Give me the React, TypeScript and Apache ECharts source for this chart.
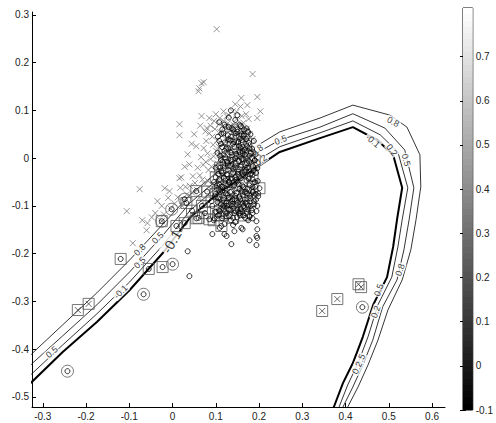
import React, { useEffect, useRef } from 'react';
import * as echarts from 'echarts';

// ---- axes ----
const xTicks = [-0.3, -0.2, -0.1, 0, 0.1, 0.2, 0.3, 0.4, 0.5, 0.6];
const yTicks = [-0.5, -0.4, -0.3, -0.2, -0.1, 0, 0.1, 0.2, 0.3];
const cbTicks = [-0.1, 0, 0.1, 0.2, 0.3, 0.4, 0.5, 0.6, 0.7];
const cbRange = [-0.1, 0.81];

// ---- contour lines ----
const contourLow: number[][] = [
  [-0.342, -0.483], [-0.326, -0.469], [-0.254, -0.406], [-0.175, -0.343], [-0.099, -0.276], [-0.022, -0.198],
  [0.040, -0.125], [0.109, -0.071], [0.179, -0.029], [0.248, 0.013], [0.341, 0.042], [0.417, 0.065],
  [0.473, 0.038], [0.510, 0.007], [0.531, -0.062], [0.519, -0.129], [0.510, -0.186], [0.496, -0.249],
  [0.464, -0.307], [0.440, -0.374], [0.417, -0.429], [0.394, -0.471], [0.373, -0.521], [0.364, -0.538],
];
const contour02: number[][] = [
  [-0.342, -0.466], [-0.326, -0.452], [-0.254, -0.391], [-0.175, -0.326], [-0.099, -0.259], [-0.022, -0.182],
  [0.040, -0.110], [0.109, -0.056], [0.179, -0.014], [0.248, 0.024], [0.341, 0.053], [0.417, 0.078],
  [0.480, 0.049], [0.521, 0.013], [0.544, -0.062], [0.531, -0.129], [0.521, -0.186], [0.507, -0.249],
  [0.475, -0.307], [0.452, -0.374], [0.429, -0.429], [0.405, -0.475], [0.385, -0.521], [0.378, -0.538],
];
const contour05: number[][] = [
  [-0.342, -0.446], [-0.326, -0.431], [-0.254, -0.372], [-0.175, -0.307], [-0.099, -0.238], [-0.022, -0.161],
  [0.040, -0.094], [0.109, -0.041], [0.179, 0.003], [0.248, 0.038], [0.341, 0.065], [0.417, 0.093],
  [0.491, 0.063], [0.537, 0.017], [0.558, -0.062], [0.547, -0.129], [0.535, -0.192], [0.519, -0.255],
  [0.486, -0.311], [0.463, -0.381], [0.440, -0.433], [0.417, -0.479], [0.394, -0.521], [0.387, -0.538],
];
const contour08: number[][] = [
  [-0.342, -0.425], [-0.326, -0.410], [-0.254, -0.349], [-0.175, -0.282], [-0.099, -0.213], [-0.022, -0.138],
  [0.040, -0.077], [0.109, -0.025], [0.179, 0.017], [0.248, 0.055], [0.341, 0.084], [0.417, 0.111],
  [0.503, 0.090], [0.542, 0.065], [0.572, 0.007], [0.574, -0.060], [0.563, -0.129], [0.551, -0.192],
  [0.531, -0.255], [0.498, -0.318], [0.475, -0.381], [0.452, -0.433], [0.429, -0.479], [0.405, -0.521], [0.398, -0.538],
];

const contourLabelPos: number[][] = [
  [-0.076, -0.192], [-0.034, -0.167], [-0.076, -0.219], [-0.120, -0.280], [-0.002, -0.175], [-0.279, -0.406],
  [0.195, 0.017], [0.204, -0.004], [0.250, 0.038],
  [0.510, 0.076], [0.463, 0.036], [0.507, 0.017], [0.540, -0.004],
  [0.526, -0.234], [0.477, -0.276], [0.470, -0.322], [0.434, -0.423], [0.427, -0.439],
];
const contourLabelText = [
  '0.8', '0.5', '0.5', '-0.1', '-0.1', '0.5',
  '0.8', '0.2', '0.5',
  '0.8', '-0.1', '0.2', '0.5',
  '0.8', '0.5', '0.2', '0.5', '0.2',
];
const contourLabelRot = [
  45, 45, 45, 45, 60, 40,
  35, 35, 22,
  -28, -40, -55, -75,
  70, 70, 70, 65, 65,
];
const contourLabelSize = [
  9, 9, 9, 9, 14, 9,
  9, 9, 9,
  9, 9, 9, 9,
  9, 9, 9, 9, 9,
];

// ---- scatter data ----
const crossPts: number[][] = [
  [0.102, 0.270], [0.185, 0.176], [0.067, 0.157], [0.072, 0.159], [0.060, 0.140], [0.062, 0.146],
  [0.159, 0.126], [0.173, 0.111], [0.196, 0.128], [0.203, 0.098], [0.196, 0.084], [0.176, 0.082],
  [0.148, 0.082], [0.139, 0.098], [0.125, 0.088], [0.109, 0.084], [0.085, 0.084], [0.067, 0.088],
  [0.016, 0.071], [0.016, 0.048], [0.079, 0.063], [0.055, 0.025], [0.039, -0.013], [0.185, 0.040],
  [0.162, 0.057], [0.139, 0.061], [-0.076, -0.065], [-0.106, -0.111], [-0.058, -0.136], [-0.060, -0.151],
  [-0.092, -0.178], [-0.025, -0.100], [-0.007, -0.069], [0.016, -0.042], [-0.018, -0.063],
  [0.085, 0.052], [0.092, 0.045], [0.098, 0.061], [0.104, 0.038], [0.110, 0.055], [0.115, 0.047],
  [0.121, 0.066], [0.127, 0.041], [0.133, 0.058], [0.138, 0.033], [0.144, 0.049], [0.150, 0.027],
  [0.156, 0.044], [0.162, 0.019], [0.168, 0.036], [0.094, 0.028], [0.101, 0.015], [0.107, 0.024],
  [0.113, 0.008], [0.119, 0.031], [0.125, 0.017], [0.131, 0.002], [0.137, 0.022], [0.143, 0.010],
  [0.149, -0.004], [0.155, 0.013], [0.161, -0.008], [0.167, 0.006], [0.173, -0.012], [0.078, 0.036],
  [0.072, 0.021], [0.081, 0.010], [0.088, -0.002], [0.095, 0.004], [0.103, -0.011], [0.109, -0.003],
  [0.116, -0.018], [0.122, -0.007], [0.128, -0.024], [0.134, -0.013], [0.140, -0.030], [0.146, -0.019],
  [0.152, -0.035], [0.158, -0.026], [0.165, -0.041], [0.171, -0.030], [0.177, -0.047], [0.066, 0.002],
  [0.071, -0.014], [0.077, -0.008], [0.083, -0.025], [0.090, -0.018], [0.097, -0.033], [0.104, -0.027],
  [0.111, -0.042], [0.118, -0.036], [0.124, -0.051], [0.131, -0.045], [0.137, -0.060], [0.144, -0.053],
  [0.150, -0.068], [0.157, -0.061], [0.163, -0.075], [0.058, -0.020], [0.063, -0.036], [0.069, -0.045],
  [0.075, -0.055], [0.082, -0.048], [0.088, -0.064], [0.095, -0.058], [0.102, -0.073], [0.108, -0.066],
  [0.115, -0.081], [0.121, -0.075], [0.128, -0.090], [0.134, -0.084], [0.141, -0.097], [0.047, -0.038],
  [0.052, -0.052], [0.040, -0.058], [0.045, -0.072], [0.057, -0.067], [0.033, -0.076], [0.027, -0.088],
  [0.062, -0.083], [0.070, -0.093], [0.022, -0.100], [0.012, -0.082], [0.005, -0.095], [-0.004, -0.106],
  [0.030, -0.060], [0.018, -0.062], [0.108, 0.072], [0.118, 0.078], [0.128, 0.073], [0.141, 0.070],
  [0.152, 0.064], [0.164, 0.074], [0.172, 0.062], [0.178, 0.050], [0.088, 0.068], [0.096, 0.078],
  [0.076, 0.056], [0.183, 0.028], [0.180, 0.008], [0.186, -0.010], [0.190, -0.030], [0.186, -0.058],
  [0.181, -0.078], [0.174, -0.092], [0.118, 0.098], [0.130, 0.090], [0.148, 0.097], [0.160, 0.088],
  [0.170, 0.092], [0.157, 0.108], [0.145, 0.113], [0.100, 0.092], [0.064, 0.068], [0.050, 0.050],
  [0.044, 0.030], [0.035, 0.008], [0.028, -0.018], [0.020, -0.040], [-0.010, -0.083], [-0.040, -0.115],
  [-0.048, -0.124], [-0.035, -0.090], [-0.070, -0.130], [-0.020, -0.118],
];

const circlePts: number[][] = [
  [0.035, -0.195], [0.039, -0.247], [0.092, -0.159], [0.120, -0.159], [0.143, -0.153], [0.162, -0.149],
  [0.194, -0.163], [0.194, -0.132], [0.178, -0.121], [0.125, -0.163], [0.159, -0.146], [0.178, -0.172],
  [0.196, -0.167], [0.196, -0.149], [0.185, -0.126], [0.194, -0.111], [0.155, -0.115], [0.109, -0.146],
  [0.097, -0.126], [0.136, -0.180], [0.194, -0.182],
  [0.105, 0.045], [0.112, 0.030], [0.118, 0.052], [0.124, 0.020], [0.130, 0.040], [0.136, 0.012],
  [0.142, 0.034], [0.148, 0.005], [0.154, 0.026], [0.160, -0.002], [0.166, 0.018], [0.172, -0.010],
  [0.110, 0.005], [0.116, -0.008], [0.122, 0.002], [0.128, -0.015], [0.134, -0.004], [0.140, -0.022],
  [0.146, -0.011], [0.152, -0.029], [0.158, -0.018], [0.164, -0.036], [0.170, -0.025], [0.176, -0.043],
  [0.182, -0.032], [0.100, -0.020], [0.106, -0.033], [0.113, -0.027], [0.119, -0.041], [0.125, -0.034],
  [0.131, -0.049], [0.137, -0.042], [0.143, -0.056], [0.149, -0.049], [0.155, -0.064], [0.161, -0.057],
  [0.167, -0.071], [0.173, -0.064], [0.179, -0.079], [0.185, -0.070], [0.096, -0.050], [0.102, -0.062],
  [0.109, -0.056], [0.115, -0.070], [0.121, -0.063], [0.127, -0.078], [0.133, -0.071], [0.139, -0.086],
  [0.145, -0.079], [0.151, -0.093], [0.157, -0.086], [0.163, -0.101], [0.169, -0.094], [0.175, -0.108],
  [0.181, -0.100], [0.188, -0.090], [0.192, -0.075], [0.190, -0.050], [0.188, -0.025], [0.184, 0.000],
  [0.178, 0.020], [0.170, 0.040], [0.160, 0.050], [0.150, 0.055], [0.140, 0.060], [0.130, 0.065],
  [0.120, 0.070], [0.098, -0.080], [0.104, -0.092], [0.111, -0.086], [0.117, -0.100], [0.124, -0.094],
  [0.130, -0.108], [0.137, -0.101], [0.143, -0.115], [0.150, -0.108], [0.156, -0.120], [0.162, -0.113],
  [0.168, -0.125], [0.092, -0.100], [0.100, -0.112], [0.108, -0.118], [0.115, -0.126], [0.125, -0.122],
  [0.135, -0.130], [0.145, -0.134], [0.175, -0.130], [0.185, -0.115], [0.196, -0.100], [0.198, -0.080],
  [0.140, -0.140], [0.120, -0.138], [0.130, 0.085], [0.145, 0.080], [0.155, 0.070], [0.165, 0.060],
  [0.175, 0.055], [0.135, 0.100], [0.150, 0.090], [0.115, 0.060], [0.108, 0.075],
];

const coreCirclePts: number[][] = [
  [0.123, 0.066], [0.137, 0.063], [0.158, 0.067], [0.171, 0.062],
  [0.113, 0.051], [0.128, 0.048], [0.146, 0.052], [0.165, 0.047], [0.180, 0.050],
  [0.108, 0.036], [0.121, 0.033], [0.134, 0.037], [0.152, 0.034], [0.160, 0.038], [0.176, 0.032], [0.188, 0.036],
  [0.115, 0.023], [0.129, 0.020], [0.143, 0.024], [0.158, 0.021], [0.172, 0.025], [0.184, 0.019],
  [0.104, 0.011], [0.118, 0.008], [0.133, 0.012], [0.147, 0.009], [0.156, 0.013], [0.167, 0.007], [0.181, 0.011], [0.192, 0.008],
  [0.112, -0.004], [0.126, -0.007], [0.139, -0.003], [0.153, -0.006], [0.164, -0.002], [0.177, -0.007], [0.190, -0.004],
  [0.106, -0.017], [0.120, -0.020], [0.133, -0.016], [0.145, -0.019], [0.159, -0.015], [0.172, -0.020], [0.186, -0.017], [0.196, -0.021],
  [0.114, -0.031], [0.127, -0.034], [0.140, -0.030], [0.151, -0.033], [0.166, -0.029], [0.179, -0.034], [0.193, -0.031],
  [0.108, -0.044], [0.122, -0.047], [0.134, -0.043], [0.147, -0.046], [0.158, -0.042], [0.171, -0.047], [0.185, -0.044], [0.197, -0.048],
  [0.103, -0.057], [0.116, -0.060], [0.129, -0.056], [0.141, -0.059], [0.153, -0.055], [0.164, -0.060], [0.178, -0.057], [0.191, -0.060],
  [0.110, -0.071], [0.123, -0.074], [0.136, -0.070], [0.148, -0.073], [0.160, -0.069], [0.172, -0.074], [0.186, -0.071], [0.198, -0.074],
  [0.105, -0.084], [0.118, -0.087], [0.130, -0.083], [0.143, -0.086], [0.154, -0.082], [0.167, -0.087], [0.180, -0.084], [0.193, -0.087],
  [0.112, -0.097], [0.125, -0.100], [0.138, -0.096], [0.150, -0.099], [0.162, -0.095], [0.175, -0.100], [0.188, -0.097],
  [0.107, -0.109], [0.121, -0.112], [0.134, -0.108], [0.146, -0.111], [0.158, -0.107], [0.171, -0.112], [0.183, -0.109],
  [0.130, -0.121], [0.149, -0.124], [0.163, -0.120], [0.178, -0.123],
];

const squareCirclePts: number[][] = [
  [-0.120, -0.211], [-0.055, -0.232], [-0.023, -0.228], [0.055, -0.069], [0.032, -0.094], [0.009, -0.142],
  [0.028, -0.136], [0.055, -0.126], [0.085, -0.128], [0.113, -0.142], [0.109, -0.111], [0.125, -0.090],
  [0.201, -0.063],
  [0.100, -0.075], [0.115, -0.060], [0.130, -0.050], [0.145, -0.040], [0.160, -0.030], [0.175, -0.020],
  [0.120, -0.100], [0.138, -0.090], [0.155, -0.080], [0.170, -0.070], [0.185, -0.060], [0.105, -0.120],
  [0.125, -0.115], [0.150, -0.105], [0.165, -0.100], [0.180, -0.090], [0.110, -0.020], [0.128, -0.010],
  [0.145, 0.000], [0.162, 0.010], [0.178, 0.005], [0.140, 0.030], [0.155, 0.040], [0.170, 0.030],
  [0.090, -0.090], [0.080, -0.070], [0.068, -0.100], [0.095, -0.130], [0.140, -0.125], [0.165, -0.120],
  [0.185, -0.035], [0.190, -0.005], [0.135, 0.045], [0.150, 0.060], [0.165, 0.050], [0.120, 0.015],
  [0.100, -0.040], [0.075, -0.115], [0.045, -0.110], [0.060, -0.125],
];

const squareCrossPts: number[][] = [
  [-0.219, -0.318], [-0.194, -0.305], [0.346, -0.320], [0.381, -0.295], [0.430, -0.264], [0.436, -0.270],
  [-0.025, -0.132],
];

const ringPts: number[][] = [
  [-0.243, -0.446], [-0.067, -0.285], [0.000, -0.222], [-0.025, -0.132], [-0.002, -0.107], [0.028, -0.086],
  [0.162, 0.015], [0.439, -0.312],
];

const FONT = 'Liberation Sans, Arial, sans-serif';

export default function App() {
  const ref = useRef<HTMLDivElement>(null);
  useEffect(() => {
    document.body.style.margin = '0';
    if (!ref.current) return;
    const chart = echarts.init(ref.current, undefined, { renderer: 'svg' });

    const stops: { offset: number; color: string }[] = [];
    for (let i = 0; i < 64; i++) {
      const g = Math.round((i / 63) * 255);
      const c = `rgb(${g},${g},${g})`;
      stops.push({ offset: i / 64, color: c }, { offset: (i + 1) / 64, color: c });
    }
    const gradient = new echarts.graphic.LinearGradient(0, 1, 0, 0, stops);

    const crossSym = 'path://M0,0L10,10M10,0L0,10';
    const hollow = (c: string, w = 1) => ({ color: 'transparent', borderColor: c, borderWidth: w });

    const lineSeries = (data: number[][], width: number) => ({
      type: 'line',
      data,
      showSymbol: false,
      symbol: 'none',
      clip: true,
      color: '#000',
      lineStyle: { color: '#000', width },
      z: 2,
      silent: true,
    });

    const scatter = (data: number[][], symbol: string, size: number, style: any, z: number) => ({
      type: 'scatter',
      data,
      symbol,
      symbolSize: size,
      itemStyle: style,
      z,
      silent: true,
      clip: true,
    });

    const option: any = {
      animation: false,
      color: ['#000'],
      grid: [
        { left: 32, right: 51, top: 12, bottom: 16, show: false },
        { left: 463, width: 20, top: 8, height: 402, show: true, borderColor: '#000', borderWidth: 1, backgroundColor: 'transparent' },
      ],
      xAxis: [
        {
          type: 'value', gridIndex: 0, min: -0.325, max: 0.63,
          splitLine: { show: false },
          axisLine: { show: true, onZero: false, lineStyle: { color: '#000', width: 1 } },
          axisTick: { show: true, inside: true, length: 4, customValues: xTicks, lineStyle: { color: '#000' } },
          axisLabel: { customValues: xTicks, color: '#222', fontSize: 10, fontFamily: FONT, margin: 4 },
        },
        { type: 'value', gridIndex: 1, min: 0, max: 1, show: false },
      ],
      yAxis: [
        {
          type: 'value', gridIndex: 0, min: -0.521, max: 0.306,
          splitLine: { show: false },
          axisLine: { show: true, onZero: false, lineStyle: { color: '#000', width: 1 } },
          axisTick: { show: true, inside: true, length: 4, customValues: yTicks, lineStyle: { color: '#000' } },
          axisLabel: { customValues: yTicks, color: '#222', fontSize: 10, fontFamily: FONT, margin: 3 },
        },
        {
          type: 'value', gridIndex: 1, position: 'right', min: cbRange[0], max: cbRange[1],
          splitLine: { show: false },
          axisLine: { show: false },
          axisTick: { show: true, inside: true, length: 3, customValues: cbTicks, lineStyle: { color: '#000' } },
          axisLabel: { customValues: cbTicks, color: '#222', fontSize: 10, fontFamily: FONT, margin: 3 },
        },
        {
          type: 'value', gridIndex: 1, position: 'left', min: cbRange[0], max: cbRange[1],
          splitLine: { show: false },
          axisLine: { show: false },
          axisTick: { show: true, inside: true, length: 3, customValues: cbTicks, lineStyle: { color: '#000' } },
          axisLabel: { show: false },
        },
      ],
      series: [
        lineSeries(contour08, 0.8),
        lineSeries(contour05, 0.8),
        lineSeries(contour02, 0.8),
        lineSeries(contourLow, 2),
        {
          type: 'scatter',
          silent: true,
          z: 3,
          symbol: 'circle',
          symbolSize: 1,
          color: '#000',
          itemStyle: { color: 'rgba(0,0,0,0)' },
          label: {
            show: true,
            position: 'inside',
            color: '#000',
            fontFamily: FONT,
            fontSize: 9,
            backgroundColor: '#fff',
            padding: [0, 1],
            formatter: (p: any) => contourLabelText[p.dataIndex],
          },
          data: contourLabelPos.map((p, i) => ({
            value: p,
            label: {
              rotate: contourLabelRot[i],
              fontSize: contourLabelSize[i],
              color: '#000',
            },
          })),
        },
        scatter(crossPts, crossSym, 6, hollow('#7a7a7a', 1), 4),
        scatter(squareCirclePts, 'rect', 11, hollow('#555', 1), 5),
        scatter(squareCrossPts, 'rect', 11, hollow('#555', 1), 5),
        scatter(squareCrossPts, crossSym, 6, hollow('#444', 1), 6),
        scatter(ringPts, 'circle', 12, hollow('#555', 1), 5),
        scatter(ringPts, 'circle', 5, hollow('#000', 1), 6),
        scatter(squareCirclePts, 'circle', 5, hollow('#000', 1), 6),
        scatter(circlePts, 'circle', 5, hollow('#000', 1), 6),
        scatter(coreCirclePts, 'circle', 5, hollow('#000', 1), 6),
        {
          type: 'custom',
          xAxisIndex: 1,
          yAxisIndex: 1,
          silent: true,
          data: [[cbRange[0], cbRange[1]]],
          renderItem: (_p: any, api: any) => {
            const p0 = api.coord([0, api.value(0)]);
            const p1 = api.coord([1, api.value(1)]);
            return {
              type: 'rect',
              shape: { x: p0[0], y: p1[1], width: p1[0] - p0[0], height: p0[1] - p1[1] },
              style: { fill: gradient },
            };
          },
        },
      ],
    };
    chart.setOption(option);
    return () => chart.dispose();
  }, []);
  return <div ref={ref} style={{ position: 'absolute', left: 0, top: 0, width: 496, height: 423 }} />;
}
